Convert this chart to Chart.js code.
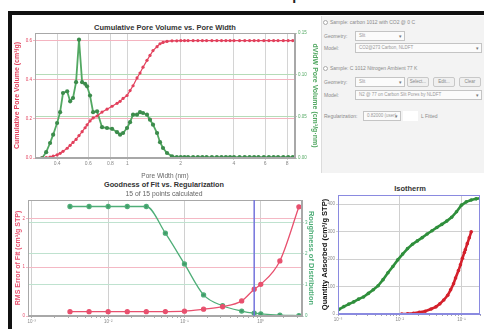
<!DOCTYPE html>
<html>
<head>
<meta charset="utf-8">
<script src="https://cdn.jsdelivr.net/npm/chart.js@4.4.0/dist/chart.umd.min.js"></script>
<style>
  html, body { margin: 0; padding: 0; background: #fff; }
  body { width: 484px; height: 329px; overflow: hidden; position: relative; font-family: "Liberation Sans", Arial, sans-serif; }
  .abs { position: absolute; white-space: nowrap; }
  .ttl { position: absolute; text-align: center; font-weight: bold; color: #333; white-space: nowrap; }
  .lbl { position: absolute; font-size: 5px; color: #8a8a8a; white-space: nowrap; }
  .dd { position: absolute; height: 10px; border: 1px solid #c4c4c4; background: #fbfbfb; font-size: 4.5px; color: #999;
        line-height: 8px; padding-left: 3px; box-sizing: border-box; white-space: nowrap; overflow: hidden; }
  .dd::after { content: "\25BE"; position: absolute; right: 2px; top: 0; font-size: 5px; color: #777; }
  .btn { position: absolute; height: 10px; border: 1px solid #c8c8c8; background: #f0f0f0; border-radius: 2px;
         font-size: 4.5px; color: #888; text-align: center; line-height: 8px; box-sizing: border-box; }
  .radio { position: absolute; width: 5px; height: 5px; border: 1px solid #aaa; border-radius: 50%; background: #fff; box-sizing: border-box; }
  canvas { position: absolute; }
</style>
</head>
<body>

<div class="abs" style="left:156px; top:-22px; font-size:22px; color:#222;">Interactive Report</div>
<div class="abs" style="left:8px; top:11px; width:480px; height:4px; background:#111;"></div>
<div class="abs" style="left:8px; top:11px; width:4px; height:330px; background:#111;"></div>

<!-- top-left chart -->
<div class="ttl" style="left:65px; top:23px; width:200px; font-size:7.5px;">Cumulative Pore Volume vs. Pore Width</div>
<canvas id="poreChart" width="308" height="165" style="left:12px; top:15px;"></canvas>

<!-- settings panel -->
<div class="abs" style="left:321px; top:16px; width:163px; height:157px; background:#f3f3f3; border-left:1px solid #dcdcdc;"></div>
<div class="radio" style="left:323px; top:20px;"></div>
<div class="lbl" style="left:330px; top:19px;">Sample: carbon 1012 with CO2 @ 0 C</div>
<div class="lbl" style="left:324px; top:33px;">Geometry:</div>
<div class="dd" style="left:355px; top:31px; width:50px;">Slit</div>
<div class="lbl" style="left:324px; top:45px;">Model:</div>
<div class="dd" style="left:355px; top:43px; width:127px;">CO2@273 Carbon, NLDFT</div>

<div class="radio" style="left:323px; top:66px;"></div>
<div class="lbl" style="left:330px; top:65px;">Sample: C 1012 Nitrogen Ambient 77 K</div>
<div class="lbl" style="left:324px; top:79px;">Geometry:</div>
<div class="dd" style="left:355px; top:77px; width:50px;">Slit</div>
<div class="btn" style="left:407px; top:77px; width:22px;">Select...</div>
<div class="btn" style="left:433px; top:77px; width:22px;">Edit...</div>
<div class="btn" style="left:459px; top:77px; width:22px;">Clear</div>
<div class="lbl" style="left:324px; top:92px;">Model:</div>
<div class="dd" style="left:355px; top:90px; width:127px;">N2 @ 77 on Carbon Slit Pores by NLDFT</div>

<div class="lbl" style="left:324px; top:113px;">Regularization:</div>
<div class="dd" style="left:363px; top:111px; width:38px;">0.82000 (user)</div>
<div class="abs" style="left:403px; top:111px; width:15px; height:10px; background:#fff;"></div>
<div class="lbl" style="left:421px; top:113px;">L Fitted</div>

<!-- bottom-left chart -->
<div class="ttl" style="left:64px; top:180px; width:200px; font-size:7.3px;">Goodness of Fit vs. Regularization</div>
<div class="abs" style="left:64px; top:190px; width:200px; text-align:center; font-size:6.8px; color:#666;">15 of 15 points calculated</div>
<canvas id="fitChart" width="302" height="151" style="left:14px; top:178px;"></canvas>

<!-- bottom-right chart -->
<div class="ttl" style="left:360px; top:184px; width:100px; font-size:7.5px;">Isotherm</div>
<canvas id="isoChart" width="164" height="151" style="left:320px; top:178px;"></canvas>

<script>
// Cumulative pore volume / dV/dW vs pore width
const poreWidthNm = [0.329, 0.347, 0.365, 0.380, 0.400, 0.416, 0.432, 0.456, 0.474, 0.492,
  0.512, 0.532, 0.554, 0.576, 0.591, 0.614, 0.639, 0.673, 0.718, 0.766,
  0.818, 0.873, 0.908, 0.944, 0.994, 1.034, 1.075, 1.132, 1.177, 1.224,
  1.289, 1.340, 1.394, 1.469, 1.527, 1.588, 1.673, 1.785, 1.9, 2.0,
  2.1, 2.2, 2.35, 2.5, 2.65, 2.8, 3.0, 3.2, 3.4, 3.6,
  3.8, 4.0, 4.3, 4.6, 4.9, 5.2, 5.5, 5.9, 6.3, 6.7,
  7.1, 7.6, 8.1, 8.6];
const cumulativeVolume = [0, 0.002, 0.005, 0.010, 0.016, 0.024, 0.034, 0.050, 0.065, 0.080,
  0.095, 0.115, 0.135, 0.155, 0.170, 0.190, 0.205, 0.215, 0.235, 0.250,
  0.265, 0.280, 0.290, 0.305, 0.320, 0.345, 0.370, 0.410, 0.435, 0.465,
  0.500, 0.525, 0.550, 0.570, 0.585, 0.592, 0.597, 0.600, 0.600, 0.601,
  0.601, 0.601, 0.601, 0.601, 0.601, 0.601, 0.601, 0.601, 0.601, 0.601,
  0.601, 0.601, 0.601, 0.601, 0.601, 0.601, 0.601, 0.601, 0.601, 0.601,
  0.601, 0.601, 0.601, 0.601];
const dVdWVolume = [0, 0.007, 0.018, 0.028, 0.042, 0.055, 0.078, 0.080, 0.068, 0.072,
  0.091, 0.142, 0.091, 0.089, 0.086, 0.075, 0.055, 0.056, 0.037, 0.036,
  0.035, 0.031, 0.028, 0.030, 0.036, 0.043, 0.052, 0.052, 0.055, 0.054,
  0.052, 0.046, 0.040, 0.030, 0.019, 0.012, 0.006, 0.002, 0.001, 0.001,
  0.001, 0.001, 0.001, 0.001, 0.001, 0.001, 0.001, 0.001, 0.001, 0.001,
  0.001, 0.001, 0.001, 0.001, 0.001, 0.001, 0.001, 0.001, 0.001, 0.001,
  0.001, 0.001, 0.001, 0.001];
const poreWidthTicks = [0.4, 0.6, 0.8, 1, 2, 4, 6, 8];
const poreWidthLabels = ["0.4", "0.6", "0.8", "1", "2", "4", "6", "8"];
const cumVolumeTicks = [0, 0.2, 0.4, 0.6];
const cumVolumeLabels = ["0.0", "0.2", "0.4", "0.6"];
const dVdWTicks = [0, 0.05, 0.10, 0.15];
const dVdWLabels = ["0.00", "0.05", "0.10", "0.15"];

// Goodness of fit vs regularization
const regularization = [0.00316, 0.00562, 0.01, 0.0178, 0.0316, 0.0562, 0.1, 0.178, 0.316, 0.562, 0.82, 1.0, 1.78, 3.16];
const rmsError = [0.088, 0.088, 0.088, 0.088, 0.088, 0.090, 0.100, 0.140, 0.190, 0.310, 0.550, 0.650, 1.130, 2.240];
const roughness = [3.53, 3.53, 3.53, 3.53, 3.53, 2.67, 1.68, 0.68, 0.33, 0.16, 0.09, 0.07, 0.03, 0.01];
const selectedRegularization = 0.82;
const regDecades = [0.001, 0.01, 0.1, 1];
const regDecadeLabels = ["10\u207B\u00B3", "10\u207B\u00B2", "10\u207B\u00B9", "10\u2070"];
const rmsTicks = [0, 1, 2];
const rmsLabels = ["0", "1", "2"];
const roughTicks = [0, 1, 2, 3];
const roughLabels = ["0", "1", "2", "3"];

// Isotherm
const relPressureN2 = [0.001038, 0.001245, 0.001496, 0.001795, 0.002154, 0.002588, 0.003105, 0.003726, 0.004476, 0.005370,
  0.006449, 0.007742, 0.009297, 0.01116, 0.01340, 0.01608, 0.01931, 0.02317, 0.02781, 0.03341,
  0.04009, 0.04815, 0.05781, 0.06938, 0.08335, 0.1, 0.1200, 0.1442, 0.1730, 0.2077];
const quantityN2 = [17, 27, 36, 44, 54, 62, 75, 88, 103, 125,
  150, 173, 197, 218, 238, 254, 266, 278, 291, 303,
  315, 326, 338, 352, 372, 396, 408, 415, 419, 422];
const relPressureCO2 = [0.01076, 0.01340, 0.01667, 0.02075, 0.02588, 0.03223, 0.03868, 0.04475, 0.05179, 0.05995,
  0.06683, 0.07458, 0.08035, 0.08955, 0.09642, 0.1038, 0.1117, 0.1157, 0.1245, 0.1340, 0.1442];
const quantityCO2 = [0, 1, 3, 6, 10, 18, 26, 37, 51, 68,
  88, 110, 131, 158, 179, 203, 224, 234, 256, 277, 299];
const pressureDecades = [0.001, 0.01, 0.1];
const pressureDecadeLabels = ["10\u207B\u00B3", "10\u207B\u00B2", "10\u207B\u00B9"];
const quantityTicks = [0, 100, 200, 300, 400];
const quantityLabels = ["0", "100", "200", "300", "400"];

const FONT = "'Liberation Sans', Arial, sans-serif";
Chart.defaults.font.family = FONT;

const framePlugin = {
  id: "frame",
  afterDatasetsDraw(chart, args, opts) {
    const { ctx, chartArea: a } = chart;
    ctx.save();
    ctx.strokeStyle = opts.color || "#999";
    ctx.lineWidth = 1;
    ctx.strokeRect(a.left + 0.5, a.top + 0.5, a.width - 1, a.height - 1);
    ctx.restore();
  }
};

const markerLine = {
  id: "markerLine",
  afterDatasetsDraw(chart, args, opts) {
    if (opts.value == null) return;
    const { ctx, chartArea: a, scales } = chart;
    const x = scales.x.getPixelForValue(opts.value);
    ctx.save();
    ctx.strokeStyle = opts.color;
    ctx.lineWidth = 1.5;
    ctx.beginPath();
    ctx.moveTo(x, a.top);
    ctx.lineTo(x, a.bottom);
    ctx.stroke();
    ctx.restore();
  }
};

function fixedTicks(values) {
  return scale => { scale.ticks = values.map(v => ({ value: v })); };
}

function withMinors(decades, max) {
  const out = [];
  decades.forEach(d => {
    for (let m = 1; m <= 9; m++) {
      const v = d * m;
      if (v <= max) out.push({ value: v, major: m === 1 });
    }
  });
  return out;
}

function points(xs, ys) {
  return xs.map((x, i) => ({ x, y: ys[i] }));
}

// --- top-left: pore volume ---
new Chart(document.getElementById("poreChart"), {
  type: "line",
  data: {
    datasets: [
      {
        data: points(poreWidthNm, cumulativeVolume),
        yAxisID: "yL",
        borderColor: "#e2405c",
        backgroundColor: "#e2405c",
        borderWidth: 1.2,
        pointRadius: 1.6,
        pointBorderWidth: 0
      },
      {
        data: points(poreWidthNm, dVdWVolume),
        yAxisID: "yR",
        borderColor: "#52a862",
        backgroundColor: "#3c8c4c",
        borderWidth: 1.8,
        pointRadius: 2.1,
        pointBorderWidth: 0
      }
    ]
  },
  options: {
    animation: false,
    responsive: false,
    layout: { padding: { top: 18 } },
    plugins: { legend: { display: false }, tooltip: { enabled: false }, frame: { color: "#a8a8a8" } },
    scales: {
      x: {
        type: "logarithmic", min: 0.3, max: 8.85,
        afterBuildTicks: fixedTicks(poreWidthTicks),
        afterFit: s => { s.height = 22; },
        ticks: { callback: (v, i) => poreWidthLabels[i], color: "#888", font: { size: 5 }, padding: 1, maxRotation: 0, autoSkip: false },
        grid: { color: "#d4d4d4", tickLength: 2 },
        border: { color: "#a8a8a8" },
        title: { display: true, text: "Pore Width (nm)", color: "#666", font: { size: 6.5 }, padding: 0 }
      },
      yL: {
        position: "left", min: 0, max: 0.64,
        afterBuildTicks: fixedTicks(cumVolumeTicks),
        afterFit: s => { s.width = 23; },
        ticks: { callback: (v, i) => cumVolumeLabels[i], color: "#e2405c", font: { size: 4.5 }, padding: 1 },
        grid: { color: "#f4b4c0", tickLength: 2 },
        border: { color: "#a8a8a8" },
        title: { display: true, text: "Cumulative Pore Volume (cm\u00B3/g)", color: "#e2405c", font: { size: 7, weight: "bold" }, padding: 1 }
      },
      yR: {
        position: "right", min: 0, max: 0.15,
        afterBuildTicks: fixedTicks(dVdWTicks),
        afterFit: s => { s.width = 25; },
        ticks: { callback: (v, i) => dVdWLabels[i], color: "#52a862", font: { size: 4.5 }, padding: 1 },
        grid: { color: "#b6dcb8", tickLength: 2 },
        border: { color: "#a8a8a8" },
        title: { display: true, text: "dV/dW Pore Volume (cm\u00B3/g\u00B7nm)", color: "#52a862", font: { size: 7, weight: "bold" }, padding: 1 }
      }
    }
  },
  plugins: [framePlugin]
});

// --- bottom-left: goodness of fit ---
const regTicks = withMinors(regDecades, 3.5);
new Chart(document.getElementById("fitChart"), {
  type: "line",
  data: {
    datasets: [
      {
        data: points(regularization, rmsError),
        yAxisID: "yL",
        borderColor: "#e8506e",
        backgroundColor: "#e8506e",
        borderWidth: 1.3,
        pointRadius: 2,
        cubicInterpolationMode: "monotone"
      },
      {
        data: points(regularization, roughness),
        yAxisID: "yR",
        borderColor: "#4fae78",
        backgroundColor: "#3f9a68",
        borderWidth: 1.3,
        pointRadius: 2,
        cubicInterpolationMode: "monotone"
      }
    ]
  },
  options: {
    animation: false,
    responsive: false,
    layout: { padding: { top: 22 } },
    plugins: {
      legend: { display: false }, tooltip: { enabled: false },
      frame: { color: "#a8a8a8" },
      markerLine: { value: selectedRegularization, color: "#7474dc" }
    },
    scales: {
      x: {
        type: "logarithmic", min: 0.00089, max: 3.47,
        afterBuildTicks: s => { s.ticks = regTicks.map(t => ({ ...t })); },
        afterFit: s => { s.height = 13; },
        ticks: {
          callback: (v) => { const k = regDecades.indexOf(v); return k >= 0 ? regDecadeLabels[k] : ""; },
          color: "#888", font: { size: 4.5 }, padding: 1, maxRotation: 0, autoSkip: false
        },
        grid: {
          color: c => (c.tick && regDecades.includes(c.tick.value)) ? "#d0d0d0" : "rgba(0,0,0,0)",
          tickColor: "#aaa", tickLength: 2
        },
        border: { color: "#a8a8a8" }
      },
      yL: {
        position: "left", min: 0, max: 2.38,
        afterBuildTicks: fixedTicks(rmsTicks),
        afterFit: s => { s.width = 14; },
        ticks: { callback: (v, i) => rmsLabels[i], color: "#e8506e", font: { size: 4.5 }, padding: 1 },
        grid: { color: "#f4b8c4", tickLength: 2 },
        border: { color: "#a8a8a8" },
        title: { display: true, text: "RMS Error of Fit (cm\u00B3/g STP)", color: "#e8506e", font: { size: 7, weight: "bold" }, padding: 0 }
      },
      yR: {
        position: "right", min: 0, max: 3.74,
        afterBuildTicks: fixedTicks(roughTicks),
        afterFit: s => { s.width = 14; },
        ticks: { callback: (v, i) => roughLabels[i], color: "#4fae78", font: { size: 4.5 }, padding: 1 },
        grid: { color: "#bfe2cf", tickLength: 2 },
        border: { color: "#a8a8a8" },
        title: { display: true, text: "Roughness of Distribution", color: "#4fae78", font: { size: 7.5, weight: "bold" }, padding: 0 }
      }
    }
  },
  plugins: [framePlugin, markerLine]
});

// --- bottom-right: isotherm ---
const pressureTicks = withMinors(pressureDecades, 0.2);
new Chart(document.getElementById("isoChart"), {
  type: "line",
  data: {
    datasets: [
      {
        data: points(relPressureN2, quantityN2),
        borderColor: "#2f8f3c",
        backgroundColor: "#2f8f3c",
        borderWidth: 2.6,
        pointRadius: 1.8,
        pointBorderWidth: 0
      },
      {
        data: points(relPressureCO2, quantityCO2),
        borderColor: "#d4202c",
        backgroundColor: "#d4202c",
        borderWidth: 2.6,
        pointRadius: 1.8,
        pointBorderWidth: 0
      }
    ]
  },
  options: {
    animation: false,
    responsive: false,
    layout: { padding: { top: 17, right: 1 } },
    plugins: { legend: { display: false }, tooltip: { enabled: false }, frame: { color: "#8a8ae0" } },
    scales: {
      x: {
        type: "logarithmic", min: 0.001, max: 0.2,
        afterBuildTicks: s => { s.ticks = pressureTicks.map(t => ({ ...t })); },
        afterFit: s => { s.height = 15; },
        ticks: {
          callback: (v) => { const k = pressureDecades.indexOf(v); return k >= 0 ? pressureDecadeLabels[k] : ""; },
          color: "#888", font: { size: 4.5 }, padding: 1, maxRotation: 0, autoSkip: false
        },
        grid: {
          color: c => (c.tick && pressureDecades.includes(c.tick.value)) ? "#cfcfcf" : "rgba(0,0,0,0)",
          tickColor: "#aaa", tickLength: 2
        },
        border: { color: "#8a8ae0" }
      },
      y: {
        min: 0, max: 433,
        afterBuildTicks: fixedTicks(quantityTicks),
        afterFit: s => { s.width = 18; },
        ticks: { callback: (v, i) => quantityLabels[i], color: "#888", font: { size: 4.5 }, padding: 1 },
        grid: { color: "#d0d0d0", tickLength: 2 },
        border: { color: "#8a8ae0" },
        title: { display: true, text: "Quantity Adsorbed (cm\u00B3/g STP)", color: "#111", font: { size: 7.5, weight: "bold" }, padding: 0 }
      }
    }
  },
  plugins: [framePlugin]
});
</script>
</body>
</html>
